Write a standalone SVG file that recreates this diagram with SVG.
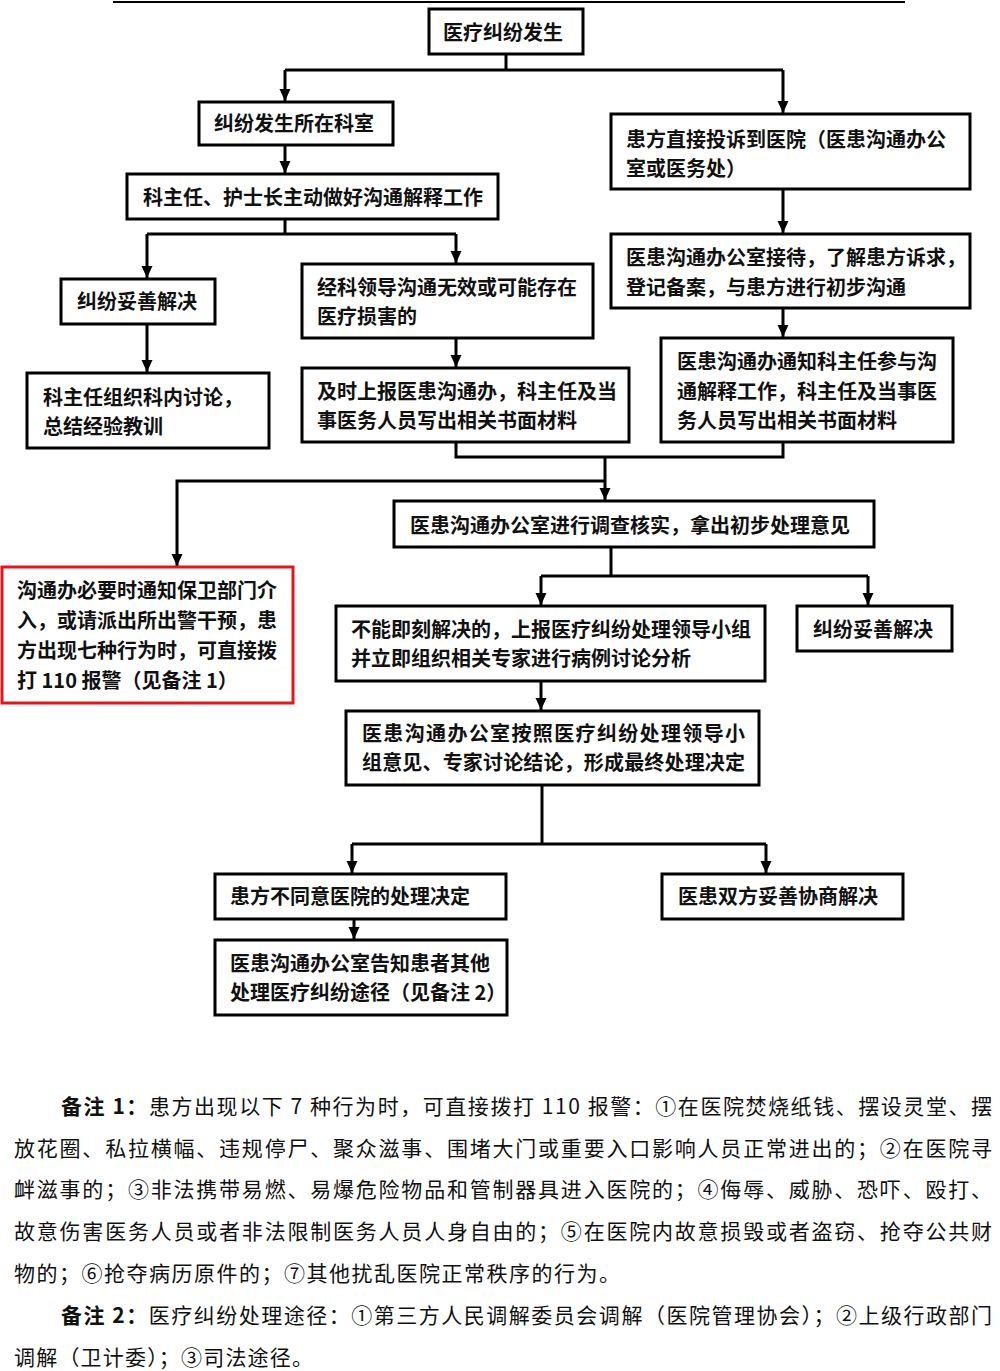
<svg xmlns="http://www.w3.org/2000/svg" width="1000" height="1371" viewBox="0 0 1000 1371">
<defs>
<marker id="ah" viewBox="0 0 12 12" refX="12" refY="6" markerWidth="12" markerHeight="12" markerUnits="userSpaceOnUse" orient="auto">
<path d="M0,0.5 L12,6 L0,11.5 z" fill="#000"/>
</marker>
<style>
.box{fill:#fff;stroke:#000;stroke-width:3}
.red{fill:#fff;stroke:#e5161b;stroke-width:3}
.t{font-family:"Noto Sans CJK SC","Noto Sans",sans-serif;font-size:20px;font-weight:bold;fill:#111}
.c{fill:none;stroke:#000;stroke-width:3}
.a{marker-end:url(#ah)}
.n{font-family:"Noto Sans CJK SC","Noto Sans",sans-serif;font-size:21px;fill:#111}
.nb{font-weight:bold}
</style>
</defs>
<rect width="1000" height="1371" fill="#fff"/>
<line x1="113" y1="2" x2="905" y2="2" stroke="#000" stroke-width="2"/>

<g id="connectors">
<polyline class="c" points="506,54 506,70"/>
<polyline class="c" points="285,70 783,70"/>
<polyline class="c a" points="285,70 285,101"/>
<polyline class="c a" points="783,70 783,113"/>
<polyline class="c a" points="285,145 285,173"/>
<polyline class="c" points="285,219 285,234"/>
<polyline class="c" points="147,234 456,234"/>
<polyline class="c a" points="147,234 147,278"/>
<polyline class="c a" points="456,234 456,263"/>
<polyline class="c a" points="783,189 783,233"/>
<polyline class="c a" points="783,308 783,337"/>
<polyline class="c a" points="147,324 147,372"/>
<polyline class="c a" points="456,338 456,367"/>
<polyline class="c" points="456,442 456,457 783,457 783,442"/>
<polyline class="c a" points="605,457 605,500"/>
<polyline class="c a" points="605,481 177,481 177,566"/>
<polyline class="c" points="611,547 611,576"/>
<polyline class="c" points="541,576 868,576"/>
<polyline class="c a" points="541,576 541,605"/>
<polyline class="c a" points="868,576 868,605"/>
<polyline class="c a" points="541,681 541,710"/>
<polyline class="c" points="542,785 542,844"/>
<polyline class="c" points="352,844 766,844"/>
<polyline class="c a" points="352,844 352,873"/>
<polyline class="c a" points="766,844 766,873"/>
<polyline class="c a" points="354,919 354,939"/>
</g>

<g id="n1"><rect class="box" x="429" y="9" width="154" height="45"/><text class="t" x="443" y="40">医疗纠纷发生</text></g>
<g id="n2"><rect class="box" x="199" y="102" width="194" height="43"/><text class="t" x="214" y="131">纠纷发生所在科室</text></g>
<g id="n3"><rect class="box" x="611" y="114" width="359" height="75"/><text class="t" x="626" y="147">患方直接投诉到医院（医患沟通办公</text><text class="t" x="626" y="176">室或医务处）</text></g>
<g id="n4"><rect class="box" x="127" y="174" width="371" height="45"/><text class="t" x="143" y="205">科主任、护士长主动做好沟通解释工作</text></g>
<g id="n5"><rect class="box" x="61" y="279" width="154" height="45"/><text class="t" x="77" y="309">纠纷妥善解决</text></g>
<g id="n6"><rect class="box" x="302" y="264" width="291" height="74"/><text class="t" x="317" y="295">经科领导沟通无效或可能存在</text><text class="t" x="317" y="324">医疗损害的</text></g>
<g id="n7"><rect class="box" x="611" y="234" width="359" height="74"/><text class="t" x="626" y="265">医患沟通办公室接待，了解患方诉求，</text><text class="t" x="626" y="295">登记备案，与患方进行初步沟通</text></g>
<g id="n8"><rect class="box" x="661" y="338" width="292" height="104"/><text class="t" x="677" y="369">医患沟通办通知科主任参与沟</text><text class="t" x="677" y="399">通解释工作，科主任及当事医</text><text class="t" x="677" y="428">务人员写出相关书面材料</text></g>
<g id="n9"><rect class="box" x="27" y="373" width="242" height="75"/><text class="t" x="43" y="405">科主任组织科内讨论，</text><text class="t" x="43" y="434">总结经验教训</text></g>
<g id="n10"><rect class="box" x="302" y="368" width="327" height="74"/><text class="t" x="317" y="399">及时上报医患沟通办，科主任及当</text><text class="t" x="317" y="428">事医务人员写出相关书面材料</text></g>
<g id="n11"><rect class="box" x="394" y="501" width="480" height="46"/><text class="t" x="410" y="533">医患沟通办公室进行调查核实，拿出初步处理意见</text></g>
<g id="n12"><rect class="box" x="336" y="606" width="429" height="75"/><text class="t" x="351" y="637">不能即刻解决的，上报医疗纠纷处理领导小组</text><text class="t" x="351" y="666">并立即组织相关专家进行病例讨论分析</text></g>
<g id="n13"><rect class="box" x="797" y="606" width="155" height="45"/><text class="t" x="813" y="637">纠纷妥善解决</text></g>
<g id="n-red"><rect class="red" x="2" y="567" width="291" height="136"/><text class="t" x="17" y="598">沟通办必要时通知保卫部门介</text><text class="t" x="17" y="628">入，或请派出所出警干预，患</text><text class="t" x="17" y="658">方出现七种行为时，可直接拨</text><text class="t" x="17" y="688">打 110 报警（见备注 1）</text></g>
<g id="n14"><rect class="box" x="346" y="711" width="413" height="74"/><text class="t" x="362" y="741" textLength="383" lengthAdjust="spacing">医患沟通办公室按照医疗纠纷处理领导小</text><text class="t" x="362" y="770" textLength="383" lengthAdjust="spacing">组意见、专家讨论结论，形成最终处理决定</text></g>
<g id="n15"><rect class="box" x="215" y="874" width="291" height="45"/><text class="t" x="230" y="904">患方不同意医院的处理决定</text></g>
<g id="n16"><rect class="box" x="662" y="874" width="241" height="45"/><text class="t" x="678" y="904">医患双方妥善协商解决</text></g>
<g id="n17"><rect class="box" x="215" y="940" width="292" height="75"/><text class="t" x="230" y="971">医患沟通办公室告知患者其他</text><text class="t" x="230" y="1000">处理医疗纠纷途径（见备注 2）</text></g>

<g id="notes">
<text class="n" x="61" y="1114" textLength="931" lengthAdjust="spacing"><tspan class="nb">备注 1：</tspan>患方出现以下 7 种行为时，可直接拨打 110 报警：①在医院焚烧纸钱、摆设灵堂、摆</text>
<text class="n" x="14" y="1156" textLength="978" lengthAdjust="spacing">放花圈、私拉横幅、违规停尸、聚众滋事、围堵大门或重要入口影响人员正常进出的；②在医院寻</text>
<text class="n" x="14" y="1197" textLength="978" lengthAdjust="spacing">衅滋事的；③非法携带易燃、易爆危险物品和管制器具进入医院的；④侮辱、威胁、恐吓、殴打、</text>
<text class="n" x="14" y="1239" textLength="978" lengthAdjust="spacing">故意伤害医务人员或者非法限制医务人员人身自由的；⑤在医院内故意损毁或者盗窃、抢夺公共财</text>
<text class="n" x="14" y="1281" textLength="606" lengthAdjust="spacing">物的；⑥抢夺病历原件的；⑦其他扰乱医院正常秩序的行为。</text>
<text class="n" x="61" y="1323" textLength="931" lengthAdjust="spacing"><tspan class="nb">备注 2：</tspan>医疗纠纷处理途径：①第三方人民调解委员会调解（医院管理协会）；②上级行政部门</text>
<text class="n" x="14" y="1365" textLength="299" lengthAdjust="spacing">调解（卫计委）；③司法途径。</text>
</g>
</svg>
